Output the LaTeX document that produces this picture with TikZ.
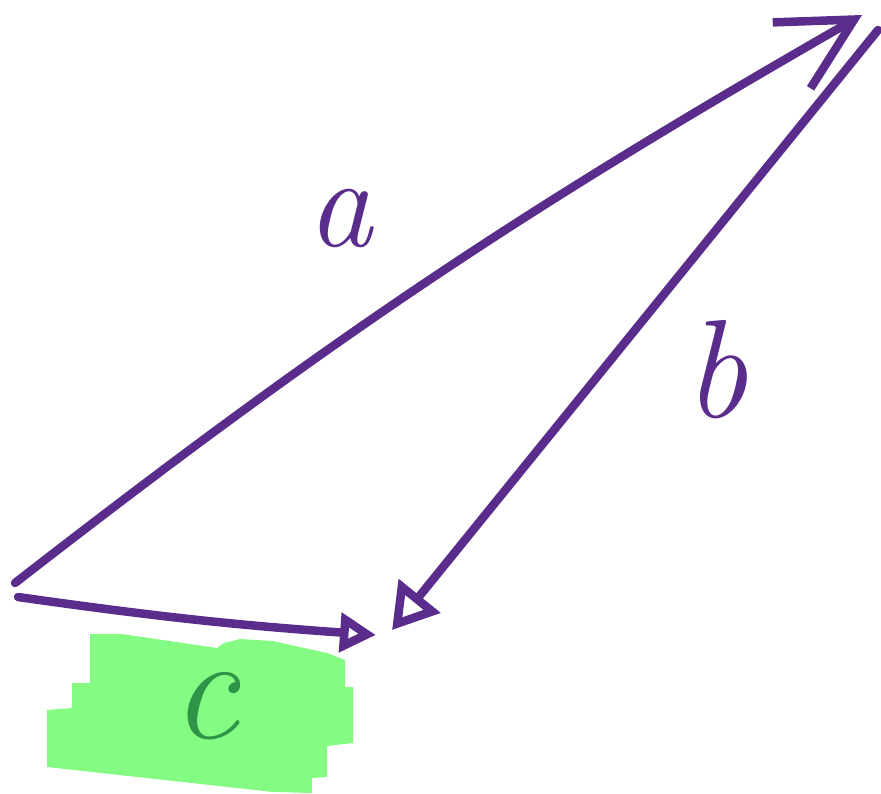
\documentclass[tikz,border=0pt]{standalone}
\usetikzlibrary{arrows.meta}
\definecolor{inkpurple}{HTML}{5A2D8C}
\definecolor{patchgreen}{HTML}{84FC84}
\definecolor{inkgreen}{HTML}{2E9447}
\tikzset{
  vec/.style={draw=inkpurple, line width=8.5pt, line cap=round, line join=round},
  lbl/.style={font=\fontsize{#1}{#1}\selectfont\itshape, inner sep=0pt},
}
\begin{document}
\begin{tikzpicture}[x=1pt, y=-1pt]
\useasboundingbox (0,0) rectangle (881,793);
% Corners of the triangle
\coordinate (A) at (15,583);
\coordinate (B) at (862,15);
\coordinate (Bs) at (878,30);
\coordinate (C) at (392,630);
\coordinate (As) at (18,597);
\coordinate (Ct) at (376,635);
% Green patch behind c
\fill[patchgreen] (90,634) -- (122,634) -- (217,648) -- (224,643) -- (240,639)
  -- (273,641) -- (327,653) -- (345,660) -- (345,687) -- (353,687) -- (353,743)
  -- (327,746) -- (327,777) -- (312,778) -- (312,793) -- (273,792) -- (47,767)
  -- (47,710) -- (72,708) -- (72,683) -- (90,683) -- cycle;
% Vectors
\draw[vec, -{Straight Barb[length=72pt, width=76pt]}] (A) to[bend left=4] (B);
\draw[vec, -{Triangle[open, length=44pt, width=52pt]}] (Bs) -- (C);
\draw[vec, -{Triangle[open, length=36pt, width=38pt]}] (As) to[bend right=2] (Ct);
% Labels
\node[lbl=130, text=inkpurple] (la) at (340,218) {a};
\node[lbl=140, text=inkpurple] (lb) at (716,370) {b};
\node[lbl=150, text=inkgreen] (lc) at (205,706) {c};
\end{tikzpicture}
\end{document}
